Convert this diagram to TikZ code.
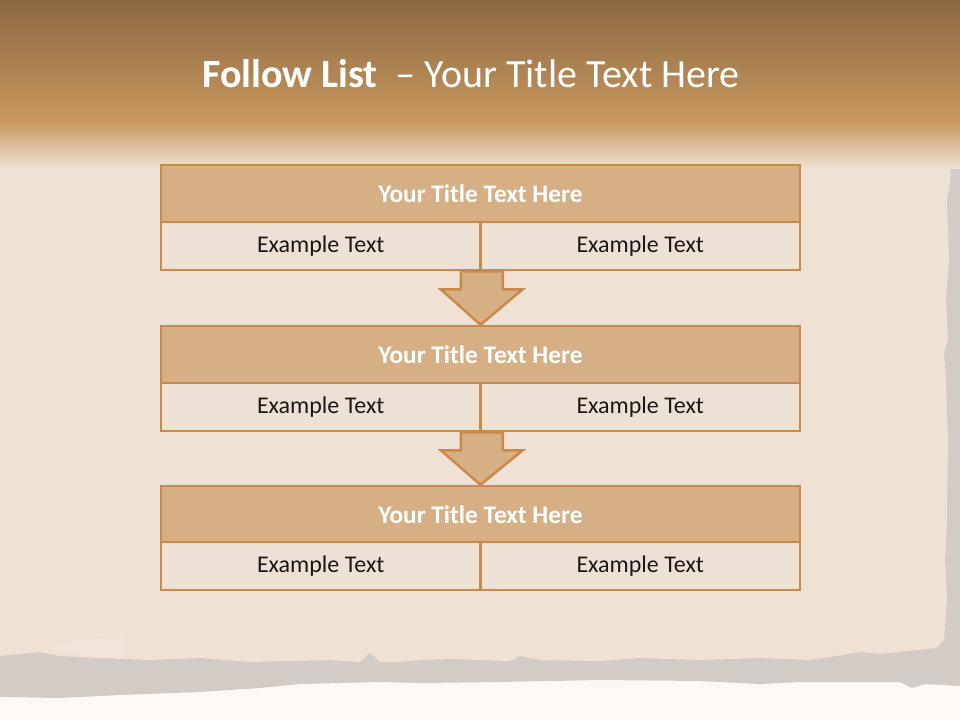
\documentclass[tikz,border=0pt]{standalone}
\usepackage{fontspec}
\setmainfont{Carlito}
\usetikzlibrary{calc}
\definecolor{bandtop}{HTML}{8C6943}
\definecolor{bandbot}{HTML}{C8975F}
\definecolor{paper}{HTML}{EFE1D3}
\definecolor{tornwhite}{HTML}{FCF8F5}
\definecolor{tornshade}{HTML}{D3CBC5}
\definecolor{hdrfill}{HTML}{D6AF85}
\definecolor{rowfill}{HTML}{EDE0D5}
\definecolor{edge}{HTML}{C88A4A}
\tikzset{
  hdr/.style={draw=edge, line width=2.5pt, fill=hdrfill, minimum width=639pt, minimum height=57pt,
     inner sep=0pt, font=\bfseries\fontsize{25.3}{28}\selectfont, text=white},
  cell/.style={draw=edge, line width=2.5pt, fill=rowfill, minimum width=319.5pt, minimum height=48pt,
     inner sep=0pt, font=\fontsize{24}{28}\selectfont, text=black!90},
  flowarrow/.style={draw=edge, line width=2.5pt, fill=hdrfill, line join=miter}
}
\begin{document}
\begin{tikzpicture}[x=1pt,y=-1pt]
\useasboundingbox (0,0) rectangle (960,720);
% background
\fill[tornwhite] (0,0) rectangle (960,720);
% grey torn strip
\fill[tornshade] (0,640) -- (960,640) -- (960,686) -- (925,684) -- (912,688) -- (900,682) -- (800,682) -- (760,684) -- (700,681) -- (600,680) -- (500,682) -- (420,683) -- (380,682) -- (300,684) -- (260,688) -- (200,692) -- (120,695) -- (60,698) -- (0,697) -- cycle;
% right grey edge
\fill[tornshade] (925,135) rectangle (960,660);
% paper
\fill[paper] (0,0) -- (948,0) -- (948,150) -- (951,175) -- (947,200) -- (949,260) -- (946,300) -- (948,340) -- (944,352) -- (946,380) -- (948,440) -- (947,520) -- (945,560) -- (947,600) -- (944,640) -- (936,648)
  -- (880,654) -- (860,652) -- (848,654) -- (810,660) -- (760,658) -- (700,660) -- (640,658) -- (600,661) -- (540,660) -- (520,656) -- (510,661) -- (450,659) -- (420,660) -- (400,662) -- (380,662) -- (370,652) -- (360,662) -- (330,660) -- (250,662) -- (200,658) -- (150,660) -- (100,658) -- (60,656) -- (40,652) -- (0,656) -- cycle;
\fill[paper!85!white] (45,645) -- (125,636) -- (125,658) -- (60,652) -- cycle;
% top band
\shade[top color=bandtop, bottom color=bandbot] (0,0) rectangle (960,122);
\shade[top color=bandbot, bottom color=paper] (0,121.5) rectangle (960,168);
% title
\node[font=\fontsize{40}{46}\selectfont, text=white, anchor=base] (title) at (471,87)
  {\textbf{Follow List}\ \ – Your Title Text Here};
% boxes
\node[hdr] (t1) at (480.5,193.5) {Your Title Text Here};
\node[cell] (a1) at (320.75,246) {Example Text};
\node[cell] (b1) at (640.25,246) {Example Text};
\node[hdr] (t2) at (480.5,354.5) {Your Title Text Here};
\node[cell] (a2) at (320.75,407) {Example Text};
\node[cell] (b2) at (640.25,407) {Example Text};
\node[hdr] (t3) at (480.5,514.5) {Your Title Text Here};
\node[cell] (a3) at (320.75,566) {Example Text};
\node[cell] (b3) at (640.25,566) {Example Text};
% arrows
\draw[flowarrow] ($(a1.south east)+(-21,0)$) -- ++(42,0) -- ++(0,18) -- ++(20,0) -- (t2.north) -- ($(a1.south east)+(-41,18)$) -- ++(20,0) -- cycle;
\draw[flowarrow] ($(a2.south east)+(-21,0)$) -- ++(42,0) -- ++(0,18) -- ++(20,0) -- (t3.north) -- ($(a2.south east)+(-41,18)$) -- ++(20,0) -- cycle;
\end{tikzpicture}
\end{document}
